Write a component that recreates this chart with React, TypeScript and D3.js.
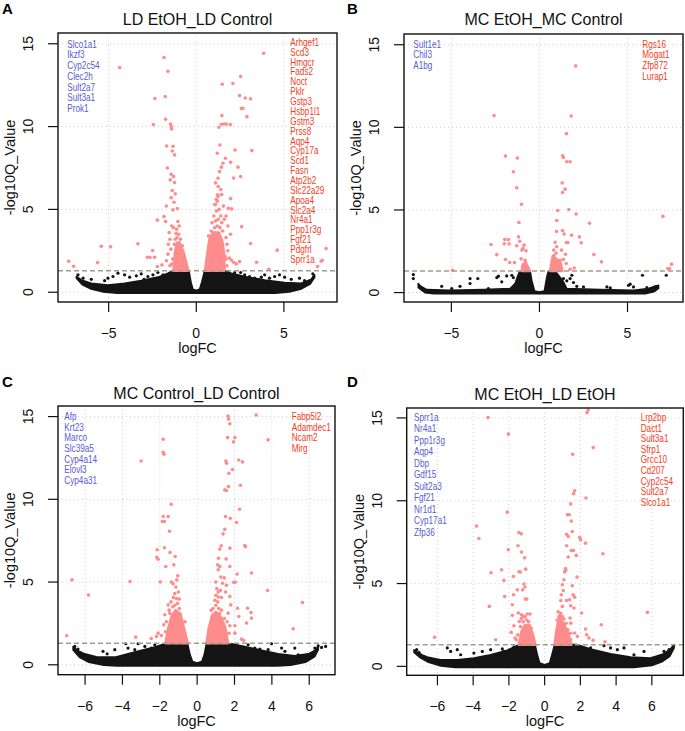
import React from "react";
import * as d3 from "d3";

type P = [number, number];

const threshold = 1.3;
const yTicks = [0, 5, 10, 15];
const xTicksAB = [-5, 0, 5];
const xTicksCD = [-6, -4, -2, 0, 2, 4, 6];

// ---------------- Panel A ----------------
const titleA = "LD EtOH_LD Control";
const downA = ["Slco1a1", "Ikzf3", "Cyp2c54", "Clec2h", "Sult2a7", "Sult3a1", "Prok1"];
const upA = ["Arhgef1", "Scd3", "Hmgcr", "Fads2", "Noct", "Pklr", "Gstp3", "Hsbp1l1", "Gstm3", "Prss8", "Aqp4", "Cyp17a", "Scd1", "Fasn", "Atp2b2", "Slc22a29", "Apoa4", "Slc2a4", "Nr4a1", "Ppp1r3g", "Fgf21", "Pdgfrl", "Sprr1a"];
const sigA: P[] = [[-1.84,14.17],[-4.37,13.56],[-1.62,13.34],[3.84,14.43],[2.53,13.02],[1.48,12.56],[2.09,12.6],[2.47,11.87],[2.79,11.73],[3.10,11.67],[-2.36,11.69],[-1.77,11.81],[2.57,11.1],[2.66,11.1],[2.89,10.6],[1.46,10.66],[-1.75,10.44],[-2.45,10.12],[-1.48,10.16],[-1.43,10.0],[-1.41,9.86],[1.29,9.96],[1.43,10.14],[1.58,10.16],[1.71,10.16],[1.94,10.12],[-1.69,8.83],[-1.33,8.81],[-1.37,8.53],[-1.24,8.29],[1.35,8.89],[2.21,8.59],[3.17,8.55],[1.20,8.39],[1.67,8.09],[1.96,7.85],[1.52,7.79],[1.43,7.55],[1.33,7.28],[2.38,7.55],[-1.65,7.5],[-1.43,7.12],[-1.29,6.98],[-1.24,6.62],[-1.48,6.78],[1.24,6.88],[2.13,6.9],[1.25,6.38],[2.53,6.98],[-1.37,6.14],[-1.20,5.94],[-1.43,5.71],[-1.27,5.43],[-1.71,5.21],[1.2,5.88],[1.14,5.61],[1.96,5.65],[1.83,5.07],[2.02,5.03],[-1.33,4.97],[-1.08,5.05],[-1.84,4.57],[-2.22,4.35],[-1.75,4.27],[-1.05,4.27],[2.59,3.96],[-3.33,2.92],[-5.42,2.78],[-4.89,2.74],[-2.49,2.52],[-2.79,2.11],[-2.64,2.11],[-2.38,2.11],[-7.28,1.87],[-5.63,1.79],[-7.0,1.57],[-2.22,1.55],[-1.96,1.65],[3.10,2.94],[4.62,2.54],[7.41,2.64],[7.19,1.93],[7.13,1.87],[6.92,1.55],[3.44,1.81],[2.47,1.85],[4.14,1.39],[2.0,1.95],[2.13,1.81],[2.28,1.71],[1.65,2.15],[1.88,2.07],[-1.55,3.6],[-1.5,3.2],[-1.6,2.9],[-1.45,2.6],[-1.62,2.3],[-1.7,1.9],[-1.5,1.6],[-1.4,4.0],[-1.3,3.9],[1.7,3.3],[1.75,2.9],[1.8,2.5],[1.6,4.4],[1.7,4.6],[1.55,5.2],[1.45,5.9],[1.4,6.2],[1.8,4.0],[1.95,3.5],[1.1,6.6],[1.05,5.3],
  [-1.1,3.3],[-1.0,3.5],[-1.12,3.8],[-0.98,4.0],[-0.9,3.2],[-1.2,3.2],[-1.25,2.9],[-0.8,2.8],[-0.7,2.1],[-1.35,2.0],[-1.4,1.7],[-1.15,3.55],
  [1.05,3.9],[1.2,4.0],[1.35,3.9],[1.1,4.3],[1.25,4.4],[1.0,4.6],[1.15,4.9],[1.3,5.0],[1.1,5.3],[1.2,5.5],[1.25,5.8],[0.9,4.2],[0.85,3.7],[1.45,4.2],[1.5,3.7],[1.7,2.0],[1.75,1.6],[0.7,3.4],[1.4,4.6],[0.95,3.4]];
const nsA: P[] = [[-6.75,1.05],[-6.46,0.85],[-5.99,0.78],[-5.23,0.70],[-5.04,0.85],[-4.75,0.95],[-4.47,1.15],[-4.09,1.05],[-3.80,0.91],[-3.42,0.99],[-3.14,1.11],[-2.76,0.95],[-2.47,1.05],[-2.19,1.19],[-1.90,1.05],[-2.98,0.78],[2.53,1.19],[2.76,1.05],[3.04,0.95],[3.33,0.85],[3.71,0.91],[3.90,1.05],[4.18,0.85],[4.47,0.95],[4.75,1.05],[5.04,0.91],[5.42,0.78],[5.89,0.85],[6.18,0.70],[6.65,1.11],[6.69,0.91],[2.19,1.19],[2.0,0.95]];
const cloudTopA: P[] = [[-6.84,0.95],[-6.56,0.74],[-5.99,0.54],[-5.04,0.44],[-4.09,0.54],[-3.14,0.70],[-2.19,0.91],[-1.62,1.15],[-1.33,1.31],[-0.42,1.31],[-0.29,0.54],[-0.19,0.18],[0,0.1],[0.19,0.18],[0.32,0.64],[0.48,1.31],[1.62,1.31],[2.0,1.15],[2.76,0.95],[3.9,0.74],[5.04,0.58],[5.99,0.54],[6.56,0.78],[6.75,1.05]];
const cloudBottomA: P[] = [[-6.84,0.85],[-6.5,0.45],[-6.0,0.2],[-5.3,0.02],[-4.5,-0.06],[4.5,-0.06],[5.3,0.02],[6.0,0.2],[6.5,0.5],[6.75,0.9]];
const massLeftA: P[] = [[-1.3,1.3],[-1.22,2.4],[-1.1,3.0],[-0.95,3.0],[-0.72,2.4],[-0.45,1.3]];
const massRightA: P[] = [[0.5,1.3],[0.62,2.3],[0.75,3.2],[0.95,3.6],[1.3,3.6],[1.5,3.0],[1.6,2.2],[1.6,1.3]];

// ---------------- Panel B ----------------
const titleB = "MC EtOH_MC Control";
const downB = ["Sult1e1", "Chil3", "A1bg"];
const upB = ["Rgs16", "Mogat1", "Zfp872", "Lurap1"];
const sigB: P[] = [[2.06,13.72],[-2.58,10.71],[1.80,10.69],[1.53,9.62],[-1.93,8.26],[-1.25,8.14],[1.31,8.28],[1.36,8.18],[1.55,7.92],[1.74,7.92],[-1.48,7.31],[-1.29,6.34],[1.29,6.63],[1.31,6.06],[1.46,6.26],[-1.02,5.35],[1.04,4.97],[1.67,5.03],[2.08,4.75],[7.01,4.61],[-1.16,4.24],[0.98,4.36],[2.84,4.2],[0.97,3.7],[1.31,3.76],[2.27,3.37],[2.37,3.01],[1.82,3.47],[1.40,3.54],[1.61,3.03],[1.53,3.03],[-2.75,2.91],[-1.97,3.21],[-1.76,3.21],[-2.0,2.95],[-1.72,2.95],[-1.19,3.37],[-1.12,3.11],[-1.29,2.83],[-0.87,2.87],[-1.0,2.57],[-0.76,2.53],[-0.93,2.67],[-2.42,2.30],[-1.93,2.0],[-1.69,1.82],[-1.42,1.82],[-1.04,2.04],[-0.81,1.96],[-0.87,1.66],[-0.72,1.52],[-0.97,1.52],[-0.63,1.39],[-0.87,1.39],[-0.78,1.80],[0.89,3.05],[0.98,2.77],[0.81,2.57],[0.95,2.40],[0.83,2.24],[0.74,1.96],[1.02,1.96],[1.17,1.96],[1.36,2.0],[0.8,1.66],[0.98,1.56],[0.7,1.45],[0.83,1.39],[1.52,1.76],[1.74,1.41],[1.97,1.49],[1.25,2.57],[1.48,2.32],[3.09,2.30],[3.52,1.86],[-4.94,1.35],[7.29,1.45],[7.39,1.45],[7.5,1.72]];
const nsB: P[] = [[-7.16,1.09],[-7.16,0.85],[7.20,1.05],[-3.94,0.85],[-3.50,0.85],[-2.42,0.91],[-2.33,0.99],[-1.86,1.01],[-1.57,1.05],[-1.48,0.91],[-2.14,0.65],[-4.51,0.38],[-5.55,0.38],[-4.98,0.24],[3.83,0.34],[4.02,0.28],[5.15,0.51],[5.34,0.34],[6.10,0.30],[6.57,0.34],[1.36,0.85],[1.55,0.71],[1.74,0.85],[1.84,1.05],[1.23,0.61],[1.93,0.61],[2.12,0.38],[2.5,0.34],[-2.90,0.24],[-3.94,0.55],[5.85,1.05],[5.06,0.44]];
const cloudTopB: P[] = [[-6.88,0.55],[-6.74,0.38],[-6.40,0.18],[-5.08,0.14],[-3.18,0.18],[-1.67,0.24],[-1.38,0.55],[-1.25,0.95],[-1.14,1.25],[-0.81,1.35],[-0.53,1.31],[-0.44,0.75],[-0.28,0.1],[0,0.04],[0.28,0.1],[0.42,0.95],[0.51,1.31],[0.89,1.31],[1.08,1.05],[1.36,0.65],[1.55,0.24],[3.45,0.18],[5.34,0.14],[6.19,0.24],[6.57,0.38],[6.76,0.44]];
const cloudBottomB: P[] = [[-6.88,0.3],[-6.5,0.0],[-6.0,-0.07],[6.0,-0.07],[6.5,0.05],[6.76,0.25]];
const massLeftB: P[] = [[-1.0,1.3],[-0.95,1.7],[-0.8,1.8],[-0.62,1.5],[-0.55,1.3]];
const massRightB: P[] = [[0.6,1.3],[0.75,2.2],[0.9,2.1],[1.2,1.8],[1.3,1.3]];

// ---------------- Panel C ----------------
const titleC = "MC Control_LD Control";
const downC = ["Afp", "Krt23", "Marco", "Slc39a5", "Cyp4a14", "Elovl3", "Cyp4a31"];
const upC = ["Fabp5l2", "Adamdec1", "Ncam2", "Mirg"];
const sigC: P[] = [[3.16,15.1],[1.66,15.04],[1.68,14.86],[1.75,14.56],[1.63,13.73],[2.02,13.73],[1.95,13.47],[3.8,13.59],[-1.82,13.63],[-1.82,12.84],[-1.77,12.72],[-3.0,12.32],[2.23,12.38],[2.43,12.26],[1.54,12.32],[1.57,12.18],[1.89,11.8],[1.70,11.58],[2.32,10.85],[1.68,10.77],[1.48,10.57],[1.57,10.53],[-1.39,9.70],[2.27,9.4],[-1.82,8.96],[-1.55,8.96],[-1.86,8.66],[-1.75,8.66],[1.52,8.96],[1.77,8.86],[2.11,8.6],[-1.48,8.07],[1.48,8.19],[1.39,7.91],[-1.75,7.07],[1.75,7.05],[1.29,7.19],[1.21,6.99],[2.55,7.21],[2.59,7.13],[-2.14,6.95],[-1.45,6.79],[-2.16,6.5],[-2.09,6.38],[-1.18,6.54],[1.55,6.4],[1.14,6.44],[-1.25,6.04],[-1.68,5.94],[1.1,6.04],[1.21,5.94],[1.13,5.74],[1.75,5.94],[2.14,5.48],[2.91,5.54],[-6.7,5.13],[-3.59,5.03],[-1.98,5.01],[-1.04,5.38],[-1.09,5.13],[-1.29,4.9],[-1.14,4.7],[-1.38,5.0],[1.0,5.0],[1.27,5.3],[1.45,5.25],[1.36,4.93],[1.95,4.99],[2.04,4.99],[1.05,4.6],[1.13,4.4],[1.25,4.5],[1.0,4.2],[1.13,4.1],[1.57,4.8],[1.52,4.4],[3.77,4.49],[-5.82,4.21],[5.64,3.76],[-1.27,4.07],[-0.96,3.97],[1.75,4.13],[1.3,4.07],[2.16,3.42],[2.7,3.42],[2.88,3.16],[2.91,2.82],[2.23,2.92],[1.66,3.12],[1.8,3.62],[2.64,2.52],[1.75,2.36],[2.02,2.36],[2.02,1.91],[2.38,1.55],[2.5,1.47],[5.14,2.17],[-6.98,1.75],[-3.29,1.67],[-2.46,1.59],[-2.09,1.91],[-2.18,1.71],[-1.73,3.02],[-1.79,2.42],[-1.91,1.77],[-1.46,3.12],[-1.55,3.62],[-1.59,1.81],
  [-1.2,3.6],[-1.05,3.7],[-1.3,3.5],[-1.1,4.0],[-1.2,4.3],[-1.0,4.4],[-1.4,3.8],[-0.95,3.4],[-1.5,3.3],[-1.65,2.6],[-1.7,2.0],[-0.65,2.6],
  [0.85,3.4],[1.0,3.6],[1.15,3.4],[0.95,3.9],[1.1,3.8],[1.3,3.3],[1.45,2.8],[1.6,2.6],[0.75,3.3],[1.2,3.1],[1.7,1.9]];
const nsC: P[] = [[-6.55,1.11],[-6.38,0.95],[-5.04,0.81],[-4.82,0.66],[-3.82,1.27],[-3.70,1.01],[-3.16,1.27],[-2.80,1.11],[-2.27,1.21],[-2.45,1.01],[-2.09,0.91],[2.73,1.21],[3.09,1.01],[3.36,0.95],[3.98,1.27],[4.52,1.01],[4.70,0.81],[5.23,1.01],[5.41,0.60],[6.30,1.01],[6.48,1.15],[6.66,1.05],[6.88,1.11],[-4.41,0.91],[-3.34,0.91],[3.80,0.91]];
const cloudTopC: P[] = [[-6.64,1.1],[-6.46,0.9],[-6.02,0.66],[-5.30,0.46],[-4.41,0.46],[-3.70,0.66],[-2.98,0.87],[-2.27,1.07],[-1.73,1.27],[-0.52,1.31],[-0.38,0.6],[-0.25,0.2],[0,0.1],[0.25,0.2],[0.38,0.6],[0.5,1.31],[1.84,1.27],[2.55,1.1],[3.45,0.87],[4.34,0.66],[5.23,0.54],[5.95,0.66],[6.30,0.87],[6.48,1.1]];
const cloudBottomC: P[] = [[-6.64,0.9],[-6.3,0.45],[-5.8,0.15],[-5.0,-0.02],[-4.3,-0.07],[4.3,-0.07],[5.0,-0.02],[5.8,0.15],[6.3,0.5],[6.48,0.9]];
const massLeftC: P[] = [[-1.7,1.3],[-1.55,2.2],[-1.35,3.0],[-1.15,3.3],[-0.9,3.1],[-0.7,2.2],[-0.5,1.3]];
const massRightC: P[] = [[0.5,1.3],[0.62,2.2],[0.8,3.0],[1.0,3.2],[1.25,2.9],[1.5,2.3],[1.65,1.3]];

// ---------------- Panel D ----------------
const titleD = "MC EtOH_LD EtOH";
const downD = ["Sprr1a", "Nr4a1", "Ppp1r3g", "Aqp4", "Dbp", "Gdf15", "Sult2a3", "Fgf21", "Nr1d1", "Cyp17a1", "Zfp36"];
const upD = ["Lrp2bp", "Dact1", "Sult3a1", "Sfrp1", "Grcc10", "Cd207", "Cyp2c54", "Sult2a7", "Slco1a1"];
const sigD: P[] = [[2.44,15.48],[2.37,15.32],[-3.17,15.02],[-2.03,14.02],[2.72,13.21],[1.57,12.81],[1.68,10.6],[1.62,10.42],[2.31,10.17],[1.46,9.81],[1.27,9.15],[1.38,9.15],[-2.09,9.31],[1.49,8.77],[-3.81,8.47],[-1.44,8.08],[-1.31,8.0],[-3.68,7.72],[1.23,7.98],[1.32,7.84],[1.55,8.14],[1.96,7.8],[2.01,7.64],[2.29,7.44],[-1.49,7.28],[-2.03,7.04],[-1.29,6.9],[1.23,7.28],[1.49,7.0],[1.62,7.0],[1.32,6.6],[1.77,6.7],[3.26,6.8],[-1.12,6.56],[-2.41,5.83],[-3.0,5.65],[-1.44,5.71],[-1.36,5.69],[-2.28,5.19],[-1.75,5.43],[-1.06,5.87],[1.17,5.9],[1.18,5.8],[1.12,5.7],[1.08,5.23],[0.99,4.93],[1.81,5.39],[-1.16,4.97],[-1.1,4.79],[-1.53,4.62],[-1.23,4.62],[-1.74,4.32],[-2.24,4.22],[-1.08,4.06],[-1.0,4.06],[1.04,4.58],[0.93,4.32],[0.9,3.98],[1.55,4.87],[1.59,4.32],[1.68,4.18],[1.4,4.02],[1.23,3.98],[-1.81,3.72],[-3.10,3.62],[-1.47,3.22],[-1.29,3.12],[-0.97,3.16],[-0.82,3.16],[-1.16,3.02],[-1.42,2.71],[0.99,3.62],[1.46,3.66],[1.64,3.52],[2.07,3.22],[0.86,3.06],[1.08,2.86],[1.42,2.92],[1.46,2.61],[5.75,3.26],[3.17,2.51],[-1.81,3.08],[-1.72,2.45],[-1.87,2.05],[2.29,2.25],[2.35,1.91],[2.48,1.71],[2.71,1.57],[1.83,1.81],[1.68,2.01],[1.46,1.61],[3.38,1.49],[-2.74,1.61],[-6.16,1.75],[-1.66,1.71],[-1.59,1.61],
  [-1.2,2.7],[-1.0,2.8],[-0.9,2.7],[-1.35,2.4],[-0.75,2.3],[-1.5,1.9],[-1.1,3.0],[-1.3,2.9],
  [0.8,3.0],[0.9,3.2],[0.75,3.3],[1.0,3.0],[1.2,2.6],[0.85,2.9],[1.3,2.2],[1.45,2.0],[0.7,2.8],[1.1,2.4]];
const nsD: P[] = [[-7.16,1.01],[-7.03,0.84],[-6.94,0.70],[-5.45,1.11],[-5.26,0.90],[-4.89,1.01],[-4.70,0.70],[-3.96,0.80],[-3.49,0.90],[-3.02,1.01],[-2.37,1.05],[-2.28,0.90],[-1.72,1.17],[3.32,1.25],[3.69,1.11],[4.07,1.01],[4.44,1.11],[5.0,0.70],[5.56,0.90],[6.40,0.60],[6.68,0.90],[6.96,1.01],[7.15,1.11],[7.22,1.25],[2.57,1.11],[2.2,0.97]];
const cloudTopD: P[] = [[-7.31,1.0],[-7.03,0.76],[-6.57,0.56],[-5.82,0.40],[-4.89,0.40],[-3.96,0.5],[-3.02,0.70],[-2.09,0.97],[-1.44,1.31],[-0.54,1.33],[-0.41,0.7],[-0.28,0.2],[0,0.1],[0.28,0.2],[0.41,0.7],[0.56,1.33],[1.83,1.31],[2.57,1.05],[3.69,0.76],[4.81,0.56],[5.93,0.50],[6.68,0.76],[7.05,1.05],[7.24,1.31]];
const cloudBottomD: P[] = [[-7.31,0.85],[-7.0,0.55],[-6.5,0.25],[-5.8,0.02],[-5.0,-0.06],[5.0,-0.06],[6.0,0.05],[6.6,0.3],[7.0,0.6],[7.24,1.1]];
const massLeftD: P[] = [[-1.45,1.3],[-1.3,2.1],[-1.1,2.5],[-0.85,2.5],[-0.65,1.9],[-0.52,1.3]];
const massRightD: P[] = [[0.55,1.3],[0.65,2.1],[0.75,2.7],[0.95,2.8],[1.2,2.3],[1.4,1.7],[1.5,1.3]];

const FONT = "'Liberation Sans', Arial, Helvetica, sans-serif";
const BLUE = "#5a5ad2";
const RED = "#f43c22";
const PINK = "#ff8c8c";
const BLACK = "#141414";

type PanelCfg = {
  letter: string; title: string;
  box: { x0: number; x1: number; y0: number; y1: number };
  xDomain: P; yDomain: P; xTicks: number[];
  letterX: number; letterY: number; titleY: number;
  down: string[]; up: string[];
  downX: number; upX: number; downY0: number; upY0: number; downStep: number; upStep: number;
  sig: P[]; ns: P[]; cloudTop: P[]; cloudBottom: P[]; massLeft: P[]; massRight: P[];
};

const panels: PanelCfg[] = [
  { letter: "A", title: titleA, box: { x0: 58, x1: 337, y0: 33, y1: 302 }, xDomain: [-7.89, 8.03], yDomain: [-0.59, 15.65], xTicks: xTicksAB,
    letterX: 2, letterY: 13.5, titleY: 25, down: downA, up: upA, downX: 67.3, upX: 290.3, downY0: 44, upY0: 42.3, downStep: 10.77, upStep: 9.86,
    sig: sigA, ns: nsA, cloudTop: cloudTopA, cloudBottom: cloudBottomA, massLeft: massLeftA, massRight: massRightA },
  { letter: "B", title: titleB, box: { x0: 404, x1: 683, y0: 34, y1: 302 }, xDomain: [-7.69, 8.15], yDomain: [-0.57, 15.65], xTicks: xTicksAB,
    letterX: 347, letterY: 13.5, titleY: 25, down: downB, up: upB, downX: 413.3, upX: 642.3, downY0: 44, upY0: 44, downStep: 10.6, upStep: 10.67,
    sig: sigB, ns: nsB, cloudTop: cloudTopB, cloudBottom: cloudBottomB, massLeft: massLeftB, massRight: massRightB },
  { letter: "C", title: titleC, box: { x0: 58, x1: 335, y0: 406, y1: 674.7 }, xDomain: [-7.45, 7.38], yDomain: [-0.6, 15.64], xTicks: xTicksCD,
    letterX: 2, letterY: 387, titleY: 399, down: downC, up: upC, downX: 64.3, upX: 291.7, downY0: 416.3, upY0: 416.3, downStep: 10.67, upStep: 10.67,
    sig: sigC, ns: nsC, cloudTop: cloudTopC, cloudBottom: cloudBottomC, massLeft: massLeftC, massRight: massRightC },
  { letter: "D", title: titleD, box: { x0: 406.7, x1: 683.3, y0: 408, y1: 675.3 }, xDomain: [-7.72, 7.76], yDomain: [-0.54, 15.6], xTicks: xTicksCD,
    letterX: 347, letterY: 387, titleY: 400, down: downD, up: upD, downX: 414, upX: 640.7, downY0: 417.3, upY0: 417.3, downStep: 11.5, upStep: 10.6,
    sig: sigD, ns: nsD, cloudTop: cloudTopD, cloudBottom: cloudBottomD, massLeft: massLeftD, massRight: massRightD },
];

function Volcano({ cfg }: { cfg: PanelCfg }) {
  const { box } = cfg;
  const x = d3.scaleLinear().domain(cfg.xDomain).range([box.x0, box.x1]);
  const y = d3.scaleLinear().domain(cfg.yDomain).range([box.y1, box.y0]);
  const line = d3.line<P>().x((d) => x(d[0])).y((d) => y(d[1]));
  const cloud = line([...cfg.cloudTop, ...cfg.cloudBottom.slice().reverse()]) + "Z";
  const mL = line(cfg.massLeft) + "Z";
  const mR = line(cfg.massRight) + "Z";
  const clipId = `clip-${cfg.letter}`;
  const cx = (box.x0 + box.x1) / 2;
  const cy = (box.y0 + box.y1) / 2;
  return (
    <g fontFamily={FONT}>
      <defs>
        <clipPath id={clipId}>
          <rect x={box.x0} y={box.y0} width={box.x1 - box.x0} height={box.y1 - box.y0} />
        </clipPath>
      </defs>
      <text x={cfg.letterX} y={cfg.letterY} fontWeight="bold" fontSize={15} fill="#000">{cfg.letter}</text>
      <text x={cx} y={cfg.titleY} textAnchor="middle" fontSize={16} fill="#111">{cfg.title}</text>
      <g clipPath={`url(#${clipId})`}>
        {cfg.xTicks.map((t) => (
          <line key={"gx" + t} x1={x(t)} x2={x(t)} y1={box.y0} y2={box.y1} stroke="#cfcfcf" strokeWidth={1} strokeDasharray="1,3" />
        ))}
        {yTicks.map((t) => (
          <line key={"gy" + t} x1={box.x0} x2={box.x1} y1={y(t)} y2={y(t)} stroke="#cfcfcf" strokeWidth={1} strokeDasharray="1,3" />
        ))}
        <path d={cloud} fill={BLACK} stroke={BLACK} strokeWidth={1.6} strokeLinejoin="round" />
        {cfg.ns.map((d, i) => (
          <circle key={"n" + i} cx={x(d[0])} cy={y(d[1])} r={1.6} fill={BLACK} />
        ))}
        <path d={mL} fill={PINK} stroke={PINK} strokeWidth={2.5} strokeLinejoin="round" />
        <path d={mR} fill={PINK} stroke={PINK} strokeWidth={2.5} strokeLinejoin="round" />
        {cfg.sig.map((d, i) => (
          <circle key={"s" + i} cx={x(d[0])} cy={y(d[1])} r={1.8} fill={PINK} />
        ))}
        <line x1={box.x0} x2={box.x1} y1={y(threshold)} y2={y(threshold)} stroke="#a19d8a" strokeWidth={1.5} strokeDasharray="5,3" />
      </g>
      <rect x={box.x0} y={box.y0} width={box.x1 - box.x0} height={box.y1 - box.y0} fill="none" stroke="#111" strokeWidth={1.4} />
      {cfg.xTicks.map((t) => (
        <g key={"tx" + t}>
          <line x1={x(t)} x2={x(t)} y1={box.y1} y2={box.y1 + 10} stroke="#111" strokeWidth={1.2} />
          <text x={x(t)} y={box.y1 + 36} textAnchor="middle" fontSize={14} fill="#111">{t < 0 ? "\u2212" + Math.abs(t) : String(t)}</text>
        </g>
      ))}
      {yTicks.map((t) => (
        <g key={"ty" + t}>
          <line x1={box.x0 - 10} x2={box.x0} y1={y(t)} y2={y(t)} stroke="#111" strokeWidth={1.2} />
          <text transform={`translate(${box.x0 - 25},${y(t)}) rotate(-90)`} textAnchor="middle" fontSize={14} fill="#111">{t}</text>
        </g>
      ))}
      <text x={cx} y={box.y1 + 51} textAnchor="middle" fontSize={14.5} fill="#111">logFC</text>
      <text transform={`translate(${box.x0 - 43},${cy}) rotate(-90)`} textAnchor="middle" fontSize={14.5} fill="#111">-log10Q_Value</text>
      {cfg.down.map((g, i) => (
        <text key={"d" + g} transform={`translate(${cfg.downX},${cfg.downY0 + i * cfg.downStep + 3.6}) scale(0.82,1)`} fontSize={10} fill={BLUE}>{g}</text>
      ))}
      {cfg.up.map((g, i) => (
        <text key={"u" + g} transform={`translate(${cfg.upX},${cfg.upY0 + i * cfg.upStep + 3.6}) scale(0.82,1)`} fontSize={10} fill={RED}>{g}</text>
      ))}
    </g>
  );
}

export default function App() {
  return (
    <svg width={685} height={731} viewBox="0 0 685 731" style={{ position: "absolute", left: 0, top: 0, background: "#fff" }}>
      <rect x={0} y={0} width={685} height={731} fill="#fff" />
      {panels.map((p) => (
        <Volcano key={p.letter} cfg={p} />
      ))}
    </svg>
  );
}
